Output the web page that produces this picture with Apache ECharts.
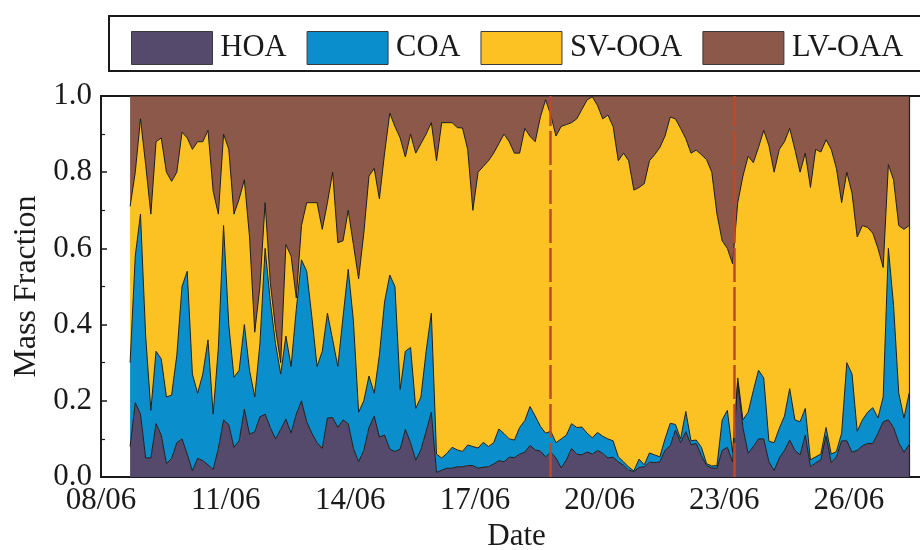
<!DOCTYPE html>
<html><head><meta charset="utf-8">
<script src="https://cdn.jsdelivr.net/npm/echarts@6/dist/echarts.min.js"></script>
<style>html,body{margin:0;padding:0;background:#fff}#c{width:920px;height:550px}</style>
</head><body><div id="c"></div>
<script>
const seriesNames = ['HOA', 'COA', 'SV-OOA', 'LV-OAA'];
const xTickLabels = ['08/06', '11/06', '14/06', '17/06', '20/06', '23/06', '26/06'];
const yTickLabels = ['0.0', '0.2', '0.4', '0.6', '0.8', '1.0'];
// sampling grid: days after 08/06 00:00, 3-hourly
const startDay = 0.70;
const stepDay = 0.125;
// dashed event markers (days after 08/06 00:00)
const eventDays = [10.82, 15.24];

const HOA = [.080,.195,.165,.050,.050,.140,.110,.035,.049,.090,
.100,.060,.016,.049,.043,.032,.020,.075,.150,.137,
.078,.095,.178,.112,.119,.158,.165,.130,.100,.125,
.152,.115,.165,.200,.145,.115,.090,.075,.155,.156,
.130,.150,.140,.075,.040,.070,.130,.160,.105,.110,
.073,.067,.073,.125,.090,.044,.072,.120,.170,.012,
.018,.023,.023,.027,.027,.030,.030,.023,.026,.027,
.034,.043,.040,.052,.051,.060,.065,.083,.071,.068,
.053,.065,.050,.024,.045,.075,.060,.058,.066,.060,
.070,.062,.050,.052,.040,.031,.018,.014,.025,.027,
.039,.038,.040,.070,.082,.123,.090,.119,.085,.088,
.056,.030,.024,.023,.070,.078,.040,.250,.130,.062,
.080,.100,.100,.040,.017,.050,.070,.097,.070,.058,
.110,.027,.037,.045,.108,.038,.053,.095,.095,.065,
.070,.082,.088,.088,.115,.145,.150,.130,.090,.065,
.085];

const COA = [.220,.385,.525,.320,.125,.190,.200,.175,.166,.230,
.400,.480,.254,.171,.227,.328,.145,.265,.510,.263,
.184,.185,.222,.168,.091,.192,.435,.330,.250,.145,
.218,.175,.275,.370,.395,.305,.200,.255,.275,.204,
.160,.270,.405,.335,.130,.130,.135,.060,.215,.350,
.457,.433,.157,.205,.250,.136,.138,.210,.260,.048,
.032,.039,.055,.044,.040,.054,.050,.053,.065,.053,
.056,.083,.074,.048,.046,.070,.083,.102,.089,.065,
.062,.055,.040,.076,.065,.065,.070,.073,.049,.043,
.047,.045,.050,.043,.013,.009,.008,.002,.022,.005,
.024,.020,.013,.030,.059,.015,.010,.053,.010,.009,
.022,.005,.005,.007,.080,.097,.025,.010,.020,.108,
.147,.180,.160,.054,.073,.078,.090,.135,.080,.087,
.070,.018,.016,.015,.022,.022,.014,.020,.205,.205,
.050,.068,.082,.094,.040,.065,.450,.320,.130,.090,
.135];

const SVOOA = [.410,.220,.250,.450,.515,.550,.580,.590,.561,.480,
.405,.350,.590,.660,.610,.550,.585,.350,.240,.460,
.428,.450,.380,.350,.170,.150,.120,.050,.040,.030,
.240,.290,.030,.090,.180,.300,.430,.320,.290,.440,
.325,.200,.155,.200,.350,.440,.525,.590,.410,.390,
.425,.420,.660,.510,.560,.670,.665,.570,.500,.770,
.880,.868,.852,.846,.849,.776,.620,.724,.724,.750,
.760,.749,.786,.780,.753,.720,.767,.709,.720,.812,
.875,.830,.805,.820,.815,.790,.810,.834,.875,.895,
.858,.833,.850,.825,.777,.810,.804,.737,.713,.738,
.767,.788,.812,.795,.804,.802,.815,.716,.755,.761,
.768,.798,.771,.660,.470,.425,.495,.460,.640,.672,
.598,.585,.650,.776,.710,.732,.720,.683,.710,.655,
.670,.715,.807,.793,.755,.800,.743,.605,.500,.475,
.510,.510,.485,.458,.445,.340,.220,.330,.440,.495,
.440];

const LVOAA = [.290,.200,.060,.180,.310,.120,.110,.200,.224,.200,
.095,.110,.140,.120,.120,.090,.250,.310,.100,.140,
.310,.270,.220,.370,.620,.500,.280,.490,.610,.700,
.390,.420,.530,.340,.280,.280,.280,.350,.280,.200,
.385,.380,.300,.390,.480,.360,.210,.190,.270,.150,
.045,.080,.110,.160,.100,.150,.125,.100,.070,.170,
.070,.070,.070,.083,.084,.140,.300,.200,.185,.170,
.150,.125,.100,.120,.150,.150,.085,.106,.120,.055,
.010,.050,.105,.080,.075,.070,.060,.035,.010,.002,
.025,.060,.050,.080,.170,.150,.170,.247,.240,.230,
.170,.154,.135,.105,.055,.060,.085,.112,.150,.142,
.154,.167,.200,.310,.380,.400,.440,.280,.210,.158,
.175,.135,.090,.130,.200,.140,.120,.085,.140,.200,
.150,.240,.140,.147,.115,.140,.190,.280,.200,.255,
.370,.340,.345,.360,.400,.450,.180,.220,.340,.350,
.340];

const DAY = 86400000;
const T0 = Date.UTC(2015, 5, 8);          // 08/06 00:00
const axisDays = 20;                       // axis spans 08/06 .. 28/06
const times = HOA.map((_, i) => T0 + (startDay + i * stepDay) * DAY);
const seriesValues = [HOA, COA, SVOOA, LVOAA];
const colors = ['#564a6c', '#0b8fcc', '#fcc223', '#8b5849'];
const FONT = '"Liberation Serif", "Times New Roman", serif';
const INK = '#1a1a1a';

const series = seriesValues.map((vals, k) => ({
  name: seriesNames[k],
  type: 'line',
  stack: 'total',
  xAxisIndex: 0,
  symbol: 'none',
  showSymbol: false,
  smooth: false,
  data: vals.map((v, i) => [times[i], v]),
  lineStyle: { color: '#1c1c1c', width: 1 },
  areaStyle: { color: colors[k], opacity: 1 },
  itemStyle: { color: colors[k] },
  emphasis: { disabled: true }
}));
series[3].markLine = {
  silent: true,
  symbol: ['none', 'none'],
  label: { show: false },
  animation: false,
  data: eventDays.map(d => ({ xAxis: T0 + d * DAY, lineStyle: { color: '#bd4a2a', width: 2.5, type: [34, 5] } }))
    .concat([{ xAxis: times[times.length - 1], lineStyle: { color: '#222', width: 1.2, type: 'solid' } }])
};

const chart = echarts.init(document.getElementById('c'), null, { renderer: 'canvas' });
chart.setOption({
  animation: false,
  backgroundColor: '#ffffff',
  graphic: [{
    type: 'rect',
    shape: { x: 109, y: 16, width: 900, height: 55 },
    style: { fill: 'none', stroke: INK, lineWidth: 2 },
    silent: true
  }],
  legend: {
    data: seriesNames,
    left: 126, top: 26,
    itemWidth: 81, itemHeight: 33, itemGap: 20,
    icon: 'rect',
    selectedMode: false,
    itemStyle: { borderColor: '#3a3a3a', borderWidth: 1 },
    textStyle: { fontSize: 30.5, fontFamily: FONT, color: INK, padding: [0, 0, 0, 3] }
  },
  grid: {
    left: 101, top: 96, right: -12, bottom: 73,
    outerBoundsMode: 'none', containLabel: false,
    show: true, borderColor: INK, borderWidth: 2, backgroundColor: 'transparent'
  },
  xAxis: [{
    type: 'time', min: T0, max: T0 + axisDays * DAY, position: 'bottom',
    axisLine: { show: true, onZero: false, lineStyle: { color: INK, width: 2 } },
    axisTick: { show: false },
    axisLabel: { show: false },
    splitLine: { show: false }
  }, {
    type: 'value', min: 0, max: axisDays, interval: 3, position: 'bottom',
    axisLine: { show: false, onZero: false },
    axisTick: { show: true, inside: true, length: 6, lineStyle: { color: INK, width: 1.5 } },
    splitLine: { show: false },
    axisLabel: {
      formatter: v => (Math.abs(v % 3) < 1e-9 && v <= 18) ? xTickLabels[Math.round(v / 3)] : '',
      margin: 8, fontSize: 31, fontFamily: FONT, color: INK, showMaxLabel: false
    },
    name: 'Date', nameLocation: 'middle', nameGap: 42,
    nameTextStyle: { fontSize: 31, fontFamily: FONT, color: INK }
  }],
  yAxis: {
    type: 'value', min: 0, max: 1, interval: 0.2,
    axisLine: { show: true, lineStyle: { color: INK, width: 2 } },
    axisTick: { show: true, inside: true, length: 6, lineStyle: { color: INK, width: 1.5 } },
    minorTick: { show: true, splitNumber: 2, length: 4, lineStyle: { color: INK, width: 1.2 } },
    splitLine: { show: false },
    minorSplitLine: { show: false },
    axisLabel: {
      formatter: v => yTickLabels[Math.round(v / 0.2)],
      margin: 9, fontSize: 31, fontFamily: FONT, color: INK
    },
    name: 'Mass Fraction', nameLocation: 'middle', nameGap: 58,
    nameTextStyle: { fontSize: 32, fontFamily: FONT, color: INK }
  },
  series: series
});
</script>
</body></html>
